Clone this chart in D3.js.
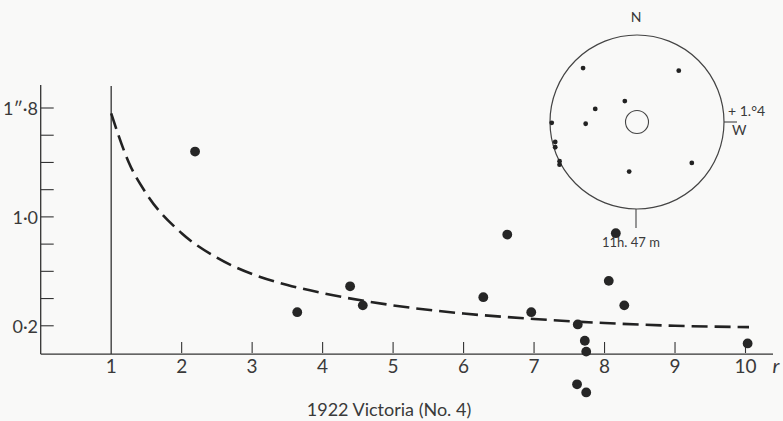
<!DOCTYPE html>
<html>
<head>
<meta charset="utf-8">
<script src="https://cdn.jsdelivr.net/npm/d3@7"></script>
<style>
  body { margin: 0; background: #f9f9f8; }
  svg text { font-family: Lato, "DejaVu Sans", sans-serif; fill: #3a3a3a; }
</style>
</head>
<body>
<svg id="chart" width="783" height="421"></svg>
<script>
// observed displacements (seconds of arc) against distance r (solar radii)
var starR = [2.19, 3.64, 4.39, 4.57, 6.28, 6.62, 6.96, 7.62, 7.72, 7.74, 7.61, 7.74, 8.06, 8.16, 8.28, 10.03];
var starV = [1.48, 0.30, 0.49, 0.35, 0.41, 0.87, 0.30, 0.21, 0.09, 0.01, -0.23, -0.29, 0.53, 0.88, 0.35, 0.07];

// dashed curve
var curveR = [1, 1.25, 1.5, 2, 2.5, 3, 3.5, 4, 5, 6, 7, 8, 9, 10.05];
var curveV = [1.76, 1.40, 1.17, 0.88, 0.70, 0.58, 0.50, 0.44, 0.35, 0.29, 0.25, 0.22, 0.20, 0.19];

var xTicks = [2, 3, 4, 5, 6, 7, 8, 9, 10];
var xLabels = [1, 2, 3, 4, 5, 6, 7, 8, 9, 10];
var yTicks = [0.2, 0.4, 0.6, 0.8, 1.0, 1.2, 1.4, 1.6, 1.8];
var yLabels = {0.2: "0·2", 1.0: "1·0", 1.8: "1\u2033·8"};

// inset: star positions on the plate (fraction of plate radius, x east-west, y north up)
var plateX = [-0.62, 0.48, -0.14, -0.48, -0.59, -0.98, -0.94, -0.94, -0.89, -0.89, 0.63, -0.09];
var plateY = [0.62, 0.59, 0.24, 0.15, -0.02, -0.01, -0.23, -0.29, -0.45, -0.49, -0.47, -0.57];

var svg = d3.select('#chart');
var ink = '#333';

var x = d3.scaleLinear().domain([0, 10]).range([40.7, 745.5]);
var y = d3.scaleLinear().domain([0, 1.8]).range([353, 108]);

// axes
svg.append('line').attr('x1', x(0)).attr('x2', 773).attr('y1', y(-0.008)).attr('y2', y(-0.008))
    .attr('stroke', ink).attr('stroke-width', 1.3);
svg.append('line').attr('x1', x(0)).attr('x2', x(0)).attr('y1', 85).attr('y2', y(-0.008))
    .attr('stroke', ink).attr('stroke-width', 1.3);
// limb of the sun, r = 1
svg.append('line').attr('x1', x(1)).attr('x2', x(1)).attr('y1', 86).attr('y2', y(-0.008))
    .attr('stroke', ink).attr('stroke-width', 1.3);

svg.selectAll('line.xtick').data(xTicks).enter().append('line')
    .attr('class', 'xtick')
    .attr('x1', function (d) { return x(d); }).attr('x2', function (d) { return x(d); })
    .attr('y1', y(0) - 11).attr('y2', y(0))
    .attr('stroke', ink).attr('stroke-width', 1.1);

svg.selectAll('text.xlab').data(xLabels).enter().append('text')
    .attr('class', 'xlab')
    .attr('x', function (d) { return x(d); })
    .attr('y', 373)
    .attr('text-anchor', 'middle')
    .attr('font-size', 19)
    .text(function (d) { return d; });

svg.append('text').attr('x', 776).attr('y', 373).attr('text-anchor', 'middle')
    .attr('font-size', 20).attr('font-style', 'italic').text('r');

svg.selectAll('line.ytick').data(yTicks).enter().append('line')
    .attr('class', 'ytick')
    .attr('x1', x(0)).attr('x2', x(0) + 13)
    .attr('y1', function (d) { return y(d); }).attr('y2', function (d) { return y(d); })
    .attr('stroke', ink).attr('stroke-width', 1.1);

svg.selectAll('text.ylab').data(Object.keys(yLabels)).enter().append('text')
    .attr('class', 'ylab')
    .attr('x', 38)
    .attr('y', function (d) { return y(+d) + 7; })
    .attr('text-anchor', 'end')
    .attr('font-size', 18)
    .text(function (d) { return yLabels[d]; });

// dashed curve
var line = d3.line()
    .x(function (d) { return x(d[0]); })
    .y(function (d) { return y(d[1]); })
    .curve(d3.curveMonotoneX);
svg.append('path')
    .datum(d3.zip(curveR, curveV))
    .attr('d', line)
    .attr('fill', 'none')
    .attr('stroke', '#222')
    .attr('stroke-width', 2.6)
    .attr('stroke-dasharray', '16,7');

// observed points
svg.selectAll('circle.star').data(d3.zip(starR, starV)).enter().append('circle')
    .attr('class', 'star')
    .attr('cx', function (d) { return x(d[0]); })
    .attr('cy', function (d) { return y(d[1]); })
    .attr('r', 4.9)
    .attr('fill', '#262626');

// title
svg.append('text').attr('x', 389).attr('y', 416).attr('text-anchor', 'middle')
    .attr('font-size', 18).text('1922 Victoria (No. 4)');

// inset plate diagram
var cx = 637, cy = 122, R = 87;
var px = d3.scaleLinear().domain([-1, 1]).range([cx - R, cx + R]);
var py = d3.scaleLinear().domain([-1, 1]).range([cy + R, cy - R]);
var inset = svg.append('g');
inset.append('circle').attr('cx', cx).attr('cy', cy).attr('r', R)
    .attr('fill', 'none').attr('stroke', '#444').attr('stroke-width', 1.2);
inset.append('circle').attr('cx', cx).attr('cy', cy).attr('r', 11.5)
    .attr('fill', 'none').attr('stroke', '#444').attr('stroke-width', 1.1);
inset.append('line').attr('x1', cx + R).attr('x2', cx + R + 13).attr('y1', cy).attr('y2', cy)
    .attr('stroke', '#444').attr('stroke-width', 1.1);
inset.append('line').attr('x1', cx - 1).attr('x2', cx - 1).attr('y1', cy + R).attr('y2', 228)
    .attr('stroke', '#444').attr('stroke-width', 1.1);
inset.selectAll('circle.pstar').data(d3.zip(plateX, plateY)).enter().append('circle')
    .attr('class', 'pstar')
    .attr('cx', function (d) { return px(d[0]); })
    .attr('cy', function (d) { return py(d[1]); })
    .attr('r', 2.4)
    .attr('fill', '#222');
inset.append('text').attr('x', cx - 1).attr('y', 22).attr('text-anchor', 'middle')
    .attr('font-size', 14).text('N');
inset.append('text').attr('x', 728).attr('y', 116).attr('font-size', 14).text('+ 1.°4');
inset.append('text').attr('x', 732).attr('y', 135).attr('font-size', 14).text('W');
inset.append('text').attr('x', 602).attr('y', 247).attr('font-size', 13).text('11h. 47 m');
</script>
</body>
</html>
